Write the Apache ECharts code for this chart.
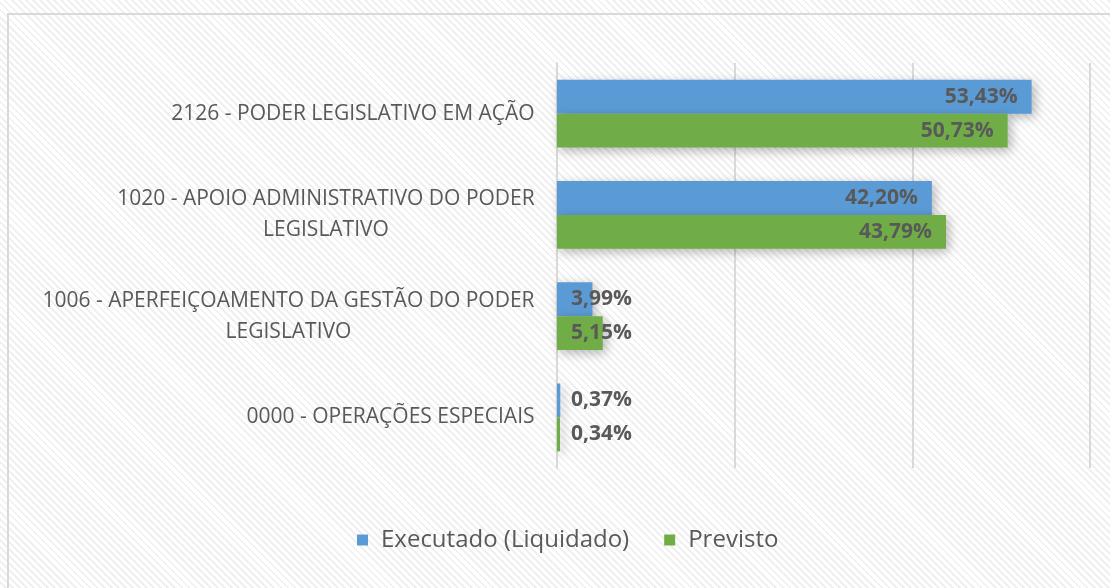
<!DOCTYPE html>
<html lang="pt">
  <head>
    <meta charset="UTF-8" />
    <title>Execução por programa</title>
    <script src="https://cdn.jsdelivr.net/npm/echarts@6/dist/echarts.min.js"></script>
    <style>
      html, body { margin: 0; padding: 0; background: #fff; }
      #chart {
        position: absolute; left: 0; top: 0; width: 1110px; height: 588px;
        background: repeating-linear-gradient(45deg, #ffffff 0px, #ffffff 3px, #f0f0f0 3px, #f0f0f0 5px);
      }
      #frame {
        position: absolute; left: 7px; top: 13px; width: 1200px; height: 700px;
        border: 2px solid #d9d9d9; pointer-events: none;
      }
    </style>
  </head>
  <body>
    <div id="chart"></div>
    <div id="frame"></div>
    <script>
      // dados (de cima para baixo)
      const categories = [
        "2126 - PODER LEGISLATIVO EM AÇÃO",
        "1020 - APOIO ADMINISTRATIVO DO PODER\nLEGISLATIVO",
        "1006 - APERFEIÇOAMENTO DA GESTÃO DO PODER\nLEGISLATIVO",
        "0000 - OPERAÇÕES ESPECIAIS",
      ];
      const executado = [53.43, 42.2, 3.99, 0.37];
      const previsto = [50.73, 43.79, 5.15, 0.34];
      const seriesNames = ["Executado (Liquidado)", "Previsto"];

      const FONT = "Open Sans";
      const AXIS_SIZE = 21;
      const GREY = "#595959";

      // largura de cada linha, para centralizar rótulos de duas linhas
      const ctx = document.createElement("canvas").getContext("2d");
      ctx.font = AXIS_SIZE + "px '" + FONT + "'";
      const rich = {};
      categories.forEach((c, i) => {
        const w = Math.max(...c.split("\n").map((l) => ctx.measureText(l).width));
        rich["c" + i] = { width: Math.ceil(w), align: "center", fontSize: AXIS_SIZE, fontFamily: FONT, color: GREY, lineHeight: 31 };
      });

      const fmt = (v) => v.toFixed(2).replace(".", ",") + "%";
      const toItems = (arr) =>
        arr.map((v) => ({
          value: v,
          label: v < 10 ? { position: "insideLeft", distance: 14 } : { position: "insideRight", distance: 14 },
        }));

      const barStyle = (color) => ({
        color,
        shadowColor: "rgba(0,0,0,0.28)",
        shadowBlur: 10,
        shadowOffsetX: 3,
        shadowOffsetY: 3,
      });

      const label = {
        show: true,
        fontFamily: FONT,
        fontSize: 21,
        fontWeight: "bold",
        color: GREY,
        formatter: (p) => fmt(p.value),
      };

      const chart = echarts.init(document.getElementById("chart"));
      chart.setOption({
        animation: false,
        textStyle: { fontFamily: FONT },
        grid: { left: 557, right: 20, top: 63, bottom: 120, containLabel: false },
        legend: {
          bottom: 31,
          left: 352,
          icon: "rect",
          itemWidth: 11,
          itemHeight: 11,
          itemGap: 35,
          textStyle: { fontFamily: FONT, fontSize: 24, color: GREY, padding: [0, 0, 0, 8] },
          data: seriesNames,
        },
        xAxis: {
          type: "value",
          min: 0,
          max: 60,
          interval: 20,
          axisLabel: { show: false },
          axisLine: { show: false },
          axisTick: { show: false },
          splitLine: { lineStyle: { color: "#d9d9d9", width: 2 } },
        },
        yAxis: {
          type: "category",
          inverse: true,
          data: categories,
          axisTick: { show: false },
          axisLine: { lineStyle: { color: "#d9d9d9", width: 2 } },
          axisLabel: {
            margin: 22,
            formatter: (v, i) => v.split("\n").map((l) => "{c" + i + "|" + l + "}").join("\n"),
            rich,
          },
        },
        series: [
          {
            name: seriesNames[0],
            type: "bar",
            data: toItems(executado),
            barGap: "0%",
            barCategoryGap: "33%",
            itemStyle: barStyle("#5B9BD5"),
            label,
          },
          {
            name: seriesNames[1],
            type: "bar",
            data: toItems(previsto),
            barGap: "0%",
            barCategoryGap: "33%",
            itemStyle: barStyle("#70AD47"),
            label,
          },
        ],
      });
    </script>
  </body>
</html>
